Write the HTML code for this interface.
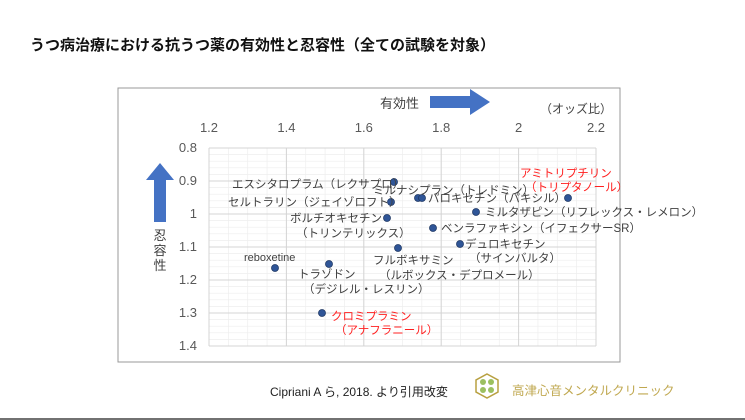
<!DOCTYPE html>
<html><head><meta charset="utf-8"><style>
body{margin:0;background:#fff;}
svg{display:block;font-family:"Liberation Sans","Noto Sans CJK JP",sans-serif;}
</style></head><body>
<svg width="745" height="420" viewBox="0 0 745 420">
<rect width="745" height="420" fill="#fff"/>
<text x="30" y="50" font-size="15" font-weight="bold" fill="#111">うつ病治療における抗うつ薬の有効性と忍容性（全ての試験を対象）</text>
<rect x="118" y="88" width="502" height="274" fill="#fff" stroke="#999" stroke-width="1"/>
<g stroke="#eee" stroke-width="0.7">
<path d="M228.35 148V346M247.7 148V346M267.05 148V346M305.75 148V346M325.1 148V346M344.45 148V346M363.8 148V346M402.5 148V346M421.85 148V346M441.2 148V346M460.55 148V346M499.25 148V346M518.6 148V346M537.95 148V346M557.3 148V346M576.65 148V346"/>
<path d="M209 154.6H596M209 161.2H596M209 167.8H596M209 174.4H596M209 187.6H596M209 194.2H596M209 200.8H596M209 207.4H596M209 220.6H596M209 227.2H596M209 233.8H596M209 240.4H596M209 253.6H596M209 260.2H596M209 266.8H596M209 273.4H596M209 286.6H596M209 293.2H596M209 299.8H596M209 306.4H596M209 319.6H596M209 326.2H596M209 332.8H596M209 339.4H596"/>
</g>
<g stroke="#d4d4d4" stroke-width="1">
<path d="M209 148V346M286.4 148V346M363.8 148V346M441.2 148V346M518.6 148V346M596 148V346"/>
<path d="M209 148H596M209 181H596M209 214H596M209 247H596M209 280H596M209 313H596M209 346H596"/>
</g>
<g font-size="13" fill="#595959" text-anchor="middle">
<text x="209" y="132">1.2</text><text x="286.4" y="132">1.4</text><text x="363.8" y="132">1.6</text><text x="441.2" y="132">1.8</text><text x="518.6" y="132">2</text><text x="596" y="132">2.2</text>
</g>
<g font-size="13" fill="#595959" text-anchor="end">
<text x="197" y="152">0.8</text><text x="197" y="185">0.9</text><text x="197" y="218">1</text><text x="197" y="251">1.1</text><text x="197" y="284">1.2</text><text x="197" y="317">1.3</text><text x="197" y="350">1.4</text>
</g>
<text x="380" y="108" font-size="13" fill="#404040">有効性</text>
<polygon points="430,96 470,96 470,89 490,102 470,115 470,108 430,108" fill="#4472c4"/>
<text x="540" y="113" font-size="12" fill="#404040">（オッズ比）</text>
<polygon points="160,163 174,180 166,180 166,222 154,222 154,180 146,180" fill="#4472c4"/>
<g font-size="13" fill="#404040" text-anchor="middle"><text x="160" y="240">忍</text><text x="160" y="255">容</text><text x="160" y="270">性</text></g>
<g fill="#2f5597" stroke="#1f3864" stroke-width="0.8">
<circle cx="394" cy="182" r="3.5"/><circle cx="391" cy="202" r="3.5"/><circle cx="418" cy="198" r="3.5"/><circle cx="422" cy="198" r="3.5"/><circle cx="568" cy="198" r="3.5"/><circle cx="476" cy="212" r="3.5"/><circle cx="387" cy="218" r="3.5"/><circle cx="433" cy="228" r="3.5"/><circle cx="460" cy="244" r="3.5"/><circle cx="398" cy="248" r="3.5"/><circle cx="275" cy="268" r="3.5"/><circle cx="329" cy="264" r="3.5"/><circle cx="322" cy="313" r="3.5"/>
</g>
<g font-size="11.5" fill="#404040">
<text x="232" y="188">エスシタロプラム（レクサプロ）</text>
<text x="373" y="194">ミルナシプラン（トレドミン）</text>
<text x="228" y="206">セルトラリン（ジェイゾロフト）</text>
<text x="428" y="202">パロキセチン（パキシル）</text>
<text x="485" y="216">ミルタザピン（リフレックス・レメロン）</text>
<text x="290" y="222">ボルチオキセチン</text>
<text x="296" y="237">（トリンテリックス）</text>
<text x="441" y="232">ベンラファキシン（イフェクサーSR）</text>
<text x="465" y="248">デュロキセチン</text>
<text x="469" y="262">（サインバルタ）</text>
<text x="373" y="264">フルボキサミン</text>
<text x="379" y="279">（ルボックス・デプロメール）</text>
<text x="244" y="261" font-size="11">reboxetine</text>
<text x="298" y="278">トラゾドン</text>
<text x="303" y="293">（デジレル・レスリン）</text>
</g>
<g font-size="11.5" fill="#ff2020">
<text x="520" y="177">アミトリプチリン</text>
<text x="525" y="191">（トリプタノール）</text>
<text x="331" y="320">クロミプラミン</text>
<text x="335" y="334">（アナフラニール）</text>
</g>
<text x="270" y="396" font-size="12" fill="#222">Cipriani A ら, 2018. より引用改変</text>
<polygon points="487,374 498,380 498,392 487,398 476,392 476,380" fill="none" stroke="#b8a040" stroke-width="1.5"/>
<g fill="#9cc060"><circle cx="483" cy="382" r="3"/><circle cx="491" cy="382" r="3"/><circle cx="483" cy="390" r="3"/><circle cx="491" cy="390" r="3"/></g>
<text x="512" y="395" font-size="12.5" fill="#c0a850">高津心音メンタルクリニック</text>
<line x1="0" y1="419" x2="745" y2="419" stroke="#444" stroke-width="1.5"/>
</svg>
</body></html>
